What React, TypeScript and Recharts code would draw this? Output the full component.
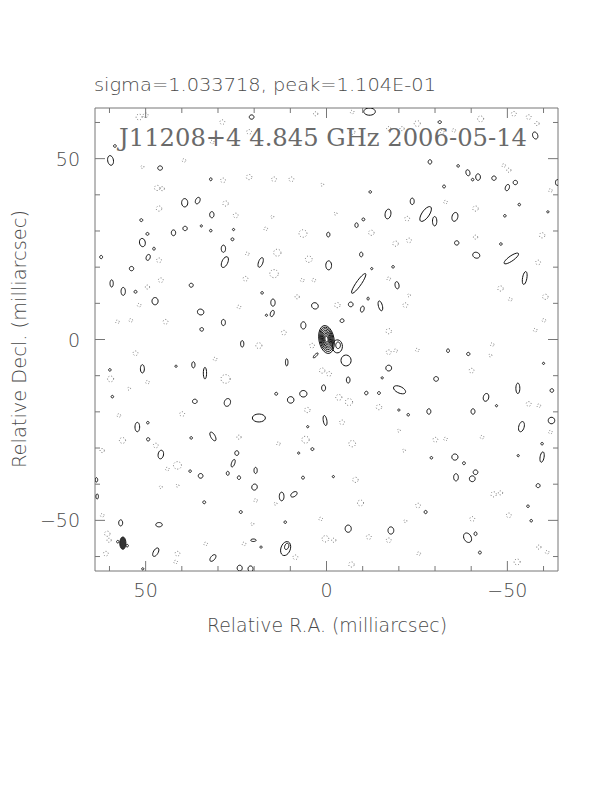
import React from 'react';
import { ScatterChart, Scatter, XAxis, YAxis } from 'recharts';

// [x (mas), y (mas), half-width, half-height, tilt deg]
const SOLID: number[][] = [
  [20.7, 61.5, 0.65, 0.6, 0], [-11.9, 63.0, 1.6, 1.0, 0], [-31.3, 60.1, 0.45, 0.4, 0], [-57.7, 56.4, 0.7, 1.0, 20],
  [59.7, 49.5, 0.8, 1.35, 10], [58.5, 53.5, 0.4, 0.35, 0], [46.0, 47.4, 0.65, 0.6, 0], [32.0, 44.3, 0.35, 0.4, 0],
  [39.2, 37.8, 0.85, 1.15, 0], [35.6, 38.4, 0.6, 0.95, -25], [31.7, 34.5, 0.6, 0.85, 0], [51.2, 33.0, 0.4, 0.4, 0],
  [49.5, 29.2, 0.4, 0.4, 0], [42.3, 29.5, 0.6, 0.8, 0], [39.1, 30.7, 0.6, 0.6, 0], [34.6, 31.4, 0.3, 0.3, 0],
  [32.0, 30.1, 0.35, 0.35, 0], [50.9, 26.8, 0.8, 1.15, 10], [47.7, 25.1, 0.35, 0.4, 0], [26.0, 27.7, 0.4, 0.4, 0],
  [25.7, 30.4, 0.3, 0.3, 0], [28.5, 25.1, 0.6, 1.0, 0], [62.3, 22.8, 0.4, 0.45, 0], [49.3, 22.7, 0.55, 0.85, -20],
  [28.1, 21.4, 0.8, 1.6, -25], [18.2, 21.3, 0.6, 1.4, -20], [53.9, 19.6, 0.6, 0.6, 0], [59.4, 15.5, 0.45, 1.0, 0],
  [56.2, 13.3, 0.6, 1.1, 0], [52.8, 13.2, 0.4, 0.4, 0], [47.4, 10.6, 0.85, 1.0, 0], [37.4, 15.0, 0.55, 0.55, 0],
  [34.8, 7.6, 0.9, 0.8, -20], [34.5, 2.8, 0.5, 0.5, 0], [28.5, 4.7, 0.55, 0.85, 0], [14.8, 10.2, 0.6, 1.0, 0],
  [15.0, 7.2, 0.5, 0.9, -20], [17.8, 12.9, 0.35, 0.35, 0], [16.6, 6.7, 0.3, 0.3, 0], [6.4, 3.9, 0.7, 1.0, 0],
  [3.2, 9.3, 0.95, 0.85, -30], [-0.6, 20.5, 0.8, 1.25, 0], [-0.5, 29.0, 0.45, 0.65, 0], [-4.3, 5.2, 0.55, 0.5, 20],
  [-6.7, 9.7, 0.65, 0.65, 0], [-9.9, 8.4, 0.5, 0.85, -15], [-11.5, 11.3, 0.3, 0.4, 0], [-14.9, 9.3, 0.55, 1.4, 15],
  [-8.9, 15.5, 3.3, 0.7, 55], [-9.6, 23.5, 0.45, 0.65, 0], [-8.3, 31.6, 0.45, 0.65, 0], [-10.2, 33.2, 0.4, 0.4, 0],
  [-12.1, 40.8, 0.35, 0.35, 0], [-12.5, 19.6, 0.3, 0.3, 0], [-17.0, 34.7, 0.8, 1.35, -10], [-18.4, 20.1, 0.35, 0.35, 0],
  [-19.5, 15.0, 0.55, 1.0, 10], [-23.7, 38.2, 0.55, 0.9, 0], [-27.4, 34.7, 2.4, 1.0, 55], [-29.9, 32.7, 0.6, 1.3, 0],
  [-28.6, 49.1, 0.5, 0.6, 0], [-32.5, 42.3, 0.4, 0.4, 0], [-35.5, 33.9, 0.8, 1.25, -15], [-36.0, 26.7, 0.6, 0.6, 0],
  [-36.4, 48.0, 0.35, 0.35, 0], [-39.1, 46.1, 0.55, 0.85, 15], [-41.9, 44.9, 0.65, 0.9, 0], [-40.4, 44.2, 0.35, 0.35, 0],
  [-46.3, 44.6, 0.6, 0.6, 0], [-50.0, 42.0, 0.55, 0.9, -20], [-52.2, 43.4, 0.6, 0.6, 0], [-41.4, 23.3, 1.0, 0.8, -20],
  [-51.1, 22.4, 2.4, 0.7, 35], [-54.8, 17.0, 0.6, 1.8, -10], [-53.3, 37.3, 0.35, 0.35, 0], [-48.2, 26.4, 0.35, 0.35, 0],
  [-49.3, 34.2, 0.35, 0.35, 0], [-63.8, 43.4, 0.5, 0.8, 0], [-61.2, 35.3, 0.3, 0.3, 0],
  [23.3, -1.2, 0.45, 0.9, 0], [3.0, -4.4, 0.9, 0.3, 45], [-5.4, -5.8, 1.4, 1.5, 0], [11.0, -6.3, 0.35, 1.0, 0],
  [50.9, -8.1, 0.55, 1.15, 0], [36.8, -7.0, 0.45, 0.85, 0], [33.6, -9.3, 0.45, 1.6, 0], [59.9, -8.4, 0.35, 0.35, 0],
  [41.6, -7.4, 0.3, 0.3, 0], [-33.6, -3.1, 0.4, 0.5, 0], [-39.2, -4.0, 0.45, 0.45, 0], [-17.2, -7.9, 0.8, 0.8, 0],
  [-30.3, -10.9, 0.65, 0.65, 0], [-6.0, -11.2, 0.5, 0.85, 0], [0.8, -13.4, 0.55, 0.85, 0], [-11.0, -14.8, 0.45, 0.5, -20],
  [-14.5, -14.8, 0.4, 0.4, 0], [-20.2, -13.9, 1.8, 0.9, -25], [6.4, -15.0, 1.0, 0.9, 0], [9.9, -16.7, 0.9, 0.9, 0],
  [13.9, -15.0, 0.4, 0.4, 0], [-15.4, -10.6, 0.3, 0.3, 0], [59.2, -15.8, 0.35, 0.35, 0], [36.4, -17.1, 0.65, 0.6, 0],
  [27.4, -17.4, 0.85, 1.1, -20], [-52.9, -13.5, 0.55, 1.45, 0], [-44.1, -16.0, 0.75, 1.1, -15], [-62.3, -14.1, 0.5, 0.5, 0],
  [-28.3, -19.9, 0.55, 0.75, 0], [-40.5, -19.9, 0.55, 0.75, 0], [-22.6, -20.8, 0.35, 0.35, 0], [-20.0, -19.5, 0.3, 0.3, 0],
  [-47.0, -18.3, 0.3, 0.3, 0], [18.7, -21.7, 1.8, 1.1, 0], [0.4, -22.4, 0.5, 1.4, 10], [52.3, -24.2, 0.65, 1.3, 0],
  [49.4, -23.0, 0.35, 0.35, 0], [-53.9, -24.1, 0.75, 1.45, -15], [-62.2, -22.4, 0.9, 0.9, 0], [31.4, -26.8, 0.6, 1.35, 30],
  [49.3, -27.6, 0.45, 0.45, 0], [37.4, -27.2, 0.35, 0.35, 0], [45.8, -31.8, 0.75, 1.2, -10], [24.8, -31.4, 0.55, 0.65, 0],
  [25.8, -34.2, 0.45, 1.1, -20], [27.3, -37.0, 0.4, 0.55, 0], [24.2, -38.2, 0.45, 0.5, 0], [19.6, -36.2, 0.45, 0.85, 0],
  [34.8, -37.7, 0.65, 0.65, 0], [37.7, -36.4, 0.35, 0.35, 0], [63.6, -38.8, 0.35, 0.6, 0], [63.4, -43.4, 0.35, 0.7, 0],
  [19.9, -40.8, 0.75, 0.85, -20], [12.4, -43.4, 0.65, 1.2, 0], [9.0, -42.8, 1.0, 0.6, 35], [6.5, -38.2, 0.4, 0.4, 0],
  [3.9, -30.3, 0.4, 0.4, 0], [7.7, -31.4, 0.3, 0.3, 0], [-1.9, -37.9, 0.3, 0.3, 0], [-35.5, -32.5, 0.85, 0.85, 0],
  [-38.0, -34.2, 0.4, 0.4, 0], [-35.8, -38.1, 0.65, 1.0, 0], [-40.3, -38.5, 0.8, 0.8, 0], [-41.2, -36.7, 0.65, 0.65, 0],
  [-59.6, -32.5, 0.55, 1.45, -10], [-59.6, -28.8, 0.35, 0.35, 0], [-53.0, -32.1, 0.3, 0.3, 0], [-58.5, -40.4, 0.55, 0.55, 0],
  [-55.7, -46.1, 0.35, 0.35, 0], [-56.6, -50.1, 0.35, 0.35, 0], [-29.0, -32.7, 0.35, 0.35, 35], [-27.4, -47.7, 0.4, 0.45, 0],
  [33.8, -45.0, 0.4, 0.4, 0], [23.7, -47.7, 0.4, 0.4, 0], [11.4, -50.5, 0.35, 0.35, 0], [56.9, -50.7, 0.55, 0.85, 0],
  [46.3, -51.2, 0.9, 0.6, 0], [-6.0, -52.3, 0.85, 1.0, 0], [-17.8, -52.8, 0.8, 1.0, 0], [-39.0, -54.8, 1.0, 1.4, 30],
  [-41.2, -53.7, 0.4, 0.5, 0], [-42.4, -58.9, 0.4, 0.4, 0], [47.2, -58.8, 0.65, 1.3, -30], [31.4, -60.4, 0.6, 1.1, -40],
  [20.2, -55.5, 0.75, 0.35, 0], [18.1, -57.4, 0.3, 0.3, 0], [11.3, -57.8, 1.3, 2.0, -20], [11.0, -57.2, 0.55, 0.9, -20],
  [24.0, -63.2, 0.7, 0.8, 0], [21.0, -63.4, 0.7, 0.8, 0], [55.1, -57.0, 0.35, 0.35, 0], [57.7, -55.9, 0.35, 0.35, 0],
  [50.8, -63.4, 0.3, 0.3, 0], [-60.0, -6.6, 0.3, 0.3, 0], [5.2, -24.1, 0.3, 0.3, 0],
];

// negative (dashed) contours: [x, y, radius]
const DOTTED: number[][] = [
  [51.8, 61.5, 1.0], [50.0, 62.0, 0.8], [28.8, 60.1, 0.8], [21.4, 57.4, 0.8], [3.0, 62.4, 0.7], [-7.1, 57.4, 0.9],
  [-7.1, 62.9, 0.6], [-17.2, 58.3, 0.7], [-20.9, 58.3, 0.7], [-25.1, 59.7, 1.0], [-32.0, 57.4, 0.6], [-42.6, 61.0, 1.0],
  [-51.8, 62.4, 0.8], [-55.9, 61.5, 0.8], [-58.2, 59.7, 0.7], [-50.4, 46.8, 0.7], [-49.0, 48.1, 0.6], [39.4, 49.5, 0.6],
  [31.6, 54.6, 0.6], [50.9, 47.7, 0.5], [46.8, 41.9, 0.9], [45.4, 41.7, 0.7], [28.6, 44.0, 0.8], [21.4, 44.9, 0.9],
  [14.5, 44.3, 0.8], [9.7, 44.3, 0.8], [1.2, 42.8, 0.5], [27.9, 37.6, 0.9], [46.3, 36.2, 0.9], [25.1, 34.3, 0.8],
  [16.8, 30.6, 0.6], [6.5, 29.3, 1.3], [15.0, 33.9, 0.5], [-2.5, 34.8, 0.5], [-12.4, 29.5, 0.9], [-19.1, 26.5, 0.9],
  [-22.8, 27.4, 0.8], [-22.3, 33.4, 0.8], [-32.9, 38.0, 0.6], [-41.2, 36.2, 0.9], [-59.6, 28.8, 0.9], [-58.5, 21.3, 0.8],
  [-61.9, 41.2, 0.6], [13.6, 24.0, 1.2], [4.9, 22.2, 1.1], [21.9, 23.7, 0.6], [46.3, 21.9, 0.8], [14.5, 18.2, 1.4],
  [22.4, 16.8, 0.8], [45.8, 16.4, 0.8], [49.5, 14.5, 0.7], [6.7, 16.4, 0.6], [3.5, 16.4, 0.6], [8.1, 11.8, 0.7],
  [-3.0, 9.5, 0.9], [-17.2, 16.8, 0.6], [-22.8, 12.2, 0.5], [-21.8, 9.5, 0.8], [-48.1, 14.1, 0.9], [-50.8, 11.1, 0.6],
  [-60.5, 11.8, 0.9], [-60.1, 5.3, 0.6], [-57.7, 2.6, 0.6], [-17.2, 2.3, 0.9], [11.8, 1.9, 0.8], [44.5, 4.9, 0.8],
  [54.1, 5.3, 0.6], [57.8, 4.9, 0.6], [51.8, 9.5, 0.6], [24.2, 9.0, 0.6], [-41.2, 28.3, 0.7], [-35.2, 57.8, 0.6],
  [52.8, -3.8, 0.8], [59.7, -10.9, 1.0], [49.5, -11.8, 0.6], [54.6, -13.6, 0.5], [27.9, -10.9, 1.5], [30.8, -5.4, 0.6],
  [18.7, -1.7, 1.0], [4.0, -1.7, 0.8], [1.2, -8.6, 0.9], [-0.7, -9.5, 0.8], [-3.4, -16.0, 1.0], [-6.2, -17.3, 1.2],
  [5.3, -19.5, 0.9], [-4.3, -22.9, 0.8], [-14.5, -18.7, 0.9], [-17.2, -3.5, 0.8], [-19.1, -3.1, 0.6], [-25.1, -2.9, 0.6],
  [-45.8, -1.4, 0.6], [-40.1, -8.6, 0.8], [-45.3, -4.4, 0.5], [-55.9, -17.8, 0.8], [-58.7, -18.3, 0.6], [-61.9, -25.6, 0.6],
  [-30.1, -27.7, 0.8], [-32.9, -27.5, 0.6], [-43.0, -27.0, 0.6], [-20.0, -25.2, 0.5], [-21.4, -30.7, 0.5], [-7.1, -28.8, 1.1],
  [5.8, -27.7, 1.2], [13.3, -28.8, 0.6], [24.2, -27.0, 0.7], [39.9, -20.6, 0.8], [57.4, -21.0, 0.6], [56.4, -27.9, 1.0],
  [47.2, -29.3, 0.8], [62.0, -30.7, 0.7], [41.2, -34.8, 1.3], [44.0, -35.8, 0.6], [45.8, -40.8, 0.5], [41.2, -40.4, 0.5],
  [19.6, -44.5, 0.6], [14.1, -45.4, 0.5], [1.6, -49.6, 0.6], [-8.0, -38.8, 0.9], [-9.4, -45.2, 1.0], [-25.3, -45.9, 0.8],
  [-21.8, -50.2, 0.5], [-40.3, -49.6, 0.8], [-46.2, -42.8, 0.9], [-48.1, -42.4, 0.7], [-50.4, -48.6, 0.8], [-58.7, -57.4, 0.7],
  [-61.0, -58.8, 0.6], [-52.7, -61.5, 1.0], [-17.2, -55.5, 0.8], [-11.7, -54.6, 0.8], [-6.9, -62.2, 0.9], [0.3, -55.1, 1.1],
  [-2.0, -55.5, 0.7], [8.6, -60.2, 0.8], [20.5, -51.0, 0.5], [22.8, -56.5, 0.6], [33.4, -56.5, 0.6], [41.2, -59.2, 0.8],
  [41.7, -61.5, 0.6], [60.6, -53.7, 0.9], [60.1, -55.5, 0.7], [61.0, -59.2, 0.8], [62.0, -48.6, 0.6], [-25.5, -59.2, 0.6],
];

// nested contours of the core and its neighbouring component
const CORE: number[][] = [
  [0.0, 0.0, 2.1, 3.9, 10], [0.0, 0.05, 1.83, 3.4, 10], [0.0, 0.1, 1.58, 2.93, 10], [0.0, 0.1, 1.33, 2.46, 10],
  [0.0, 0.1, 1.1, 2.03, 10], [0.0, 0.1, 0.86, 1.6, 10], [0.0, 0.1, 0.64, 1.17, 10], [0.0, 0.1, 0.42, 0.78, 10],
  [-3.0, -1.9, 1.4, 1.8, 0], [-3.2, -1.6, 0.65, 0.9, 0],
];

const BEAM: number[][] = [[56.3, -56.3, 0.85, 1.7, 0]];

const AXIS_TICKS = [-60, -50, -40, -30, -20, -10, 0, 10, 20, 30, 40, 50, 60];
const MAJOR_TICKS = [-50, 0, 50];
const DOMAIN: [number, number] = [-64, 64];

const TITLE = 'sigma=1.033718, peak=1.104E-01';
const INNER_TITLE = 'J11208+4 4.845 GHz 2006-05-14';
const X_LABEL = 'Relative R.A. (milliarcsec)';
const Y_LABEL = 'Relative Decl. (milliarcsec)';

type Pt = { x: number | null; y: number | null };

function ring(b: number[]): Pt[] {
  const [x, y, w, h, a = 0] = b;
  const n = 22;
  const ar = (a * Math.PI) / 180;
  const pts: Pt[] = [];
  for (let i = 0; i <= n; i++) {
    const t = (2 * Math.PI * i) / n;
    const u = w * Math.cos(t);
    const v = h * Math.sin(t);
    const sx = u * Math.cos(ar) - v * Math.sin(ar);
    const sy = u * Math.sin(ar) + v * Math.cos(ar);
    pts.push({ x: x - sx, y: y + sy });
  }
  return pts;
}

function paths(list: number[][]): Pt[] {
  const out: Pt[] = [];
  list.forEach((b) => {
    out.push(...ring(b));
    out.push({ x: null, y: null });
  });
  return out;
}

const solidData = paths(SOLID);
const dottedData = paths(DOTTED.map(([x, y, r]) => [x, y, r * 0.85, r * 0.8, 0]));
const coreData = paths(CORE);
const beamData = paths(BEAM);

const FRAME = '#777';
const TEXT = '#4a4a4a';
const SANS = '"DejaVu Sans", "Liberation Sans", sans-serif';
const fmt = (v: number) => (v < 0 ? '\u2212' + Math.abs(v) : String(v));

const noShape = () => <g />;

const BottomTick = (p: any) => {
  const { x, y, payload } = p;
  const major = MAJOR_TICKS.includes(payload.value);
  return (
    <g>
      <line x1={x} y1={y} x2={x} y2={y - (major ? 10 : 5)} stroke={FRAME} strokeWidth={1} />
      {major && (
        <text x={x} y={y + 26} textAnchor="middle" fontSize={19} fontFamily={SANS} fontWeight={200} fill={TEXT}>
          {fmt(payload.value)}
        </text>
      )}
    </g>
  );
};
const TopTick = (p: any) => {
  const { x, y, payload } = p;
  const major = MAJOR_TICKS.includes(payload.value);
  return <line x1={x} y1={y} x2={x} y2={y + (major ? 10 : 5)} stroke={FRAME} strokeWidth={1} />;
};
const LeftTick = (p: any) => {
  const { x, y, payload } = p;
  const major = MAJOR_TICKS.includes(payload.value);
  return (
    <g>
      <line x1={x} y1={y} x2={x + (major ? 10 : 5)} y2={y} stroke={FRAME} strokeWidth={1} />
      {major && (
        <text x={x - 15} y={y + 7} textAnchor="end" fontSize={19} fontFamily={SANS} fontWeight={200} fill={TEXT}>
          {fmt(payload.value)}
        </text>
      )}
    </g>
  );
};
const RightTick = (p: any) => {
  const { x, y, payload } = p;
  const major = MAJOR_TICKS.includes(payload.value);
  return <line x1={x} y1={y} x2={x - (major ? 10 : 5)} y2={y} stroke={FRAME} strokeWidth={1} />;
};

export default function App() {
  return (
    <div style={{ position: 'absolute', left: 0, top: 0, width: 612, height: 792, background: '#fff' }}>
      <ScatterChart width={612} height={792} margin={{ top: 88, right: 34, bottom: 201, left: 75 }}>
        <XAxis
          xAxisId="b" type="number" dataKey="x" domain={DOMAIN} reversed allowDataOverflow
          ticks={AXIS_TICKS} interval={0} tick={BottomTick} tickLine={false} tickSize={0} tickMargin={0}
          height={20} axisLine={{ stroke: FRAME }} orientation="bottom"
        />
        <XAxis
          xAxisId="t" type="number" dataKey="x" domain={DOMAIN} reversed allowDataOverflow
          ticks={AXIS_TICKS} interval={0} tick={TopTick} tickLine={false} tickSize={0} tickMargin={0}
          height={20} axisLine={{ stroke: FRAME }} orientation="top"
        />
        <YAxis
          yAxisId="l" type="number" dataKey="y" domain={DOMAIN} allowDataOverflow
          ticks={AXIS_TICKS} interval={0} tick={LeftTick} tickLine={false} tickSize={0} tickMargin={0}
          width={20} axisLine={{ stroke: FRAME }} orientation="left"
        />
        <YAxis
          yAxisId="r" type="number" dataKey="y" domain={DOMAIN} allowDataOverflow
          ticks={AXIS_TICKS} interval={0} tick={RightTick} tickLine={false} tickSize={0} tickMargin={0}
          width={20} axisLine={{ stroke: FRAME }} orientation="right"
        />
        <Scatter
          xAxisId="b" yAxisId="l" data={dottedData} shape={noShape} isAnimationActive={false} legendType="none"
          line={{ stroke: '#777', strokeWidth: 1, strokeDasharray: '1 2', fill: 'none' }}
        />
        <Scatter
          xAxisId="b" yAxisId="l" data={solidData} shape={noShape} isAnimationActive={false} legendType="none"
          line={{ stroke: '#111', strokeWidth: 1, fill: 'none' }}
        />
        <Scatter
          xAxisId="b" yAxisId="l" data={coreData} shape={noShape} isAnimationActive={false} legendType="none"
          line={{ stroke: '#111', strokeWidth: 1, fill: 'none' }}
        />
        <Scatter
          xAxisId="b" yAxisId="l" data={beamData} shape={noShape} isAnimationActive={false} legendType="none"
          line={{ stroke: '#222', strokeWidth: 1, fill: '#333' }}
        />
      </ScatterChart>
      <svg width={612} height={792} style={{ position: 'absolute', left: 0, top: 0, pointerEvents: 'none' }}>
        <text x={94} y={91} fontSize={17} fontFamily={SANS} fontWeight={200} fill={TEXT} textLength={342} lengthAdjust="spacingAndGlyphs">
          {TITLE}
        </text>
        <text x={119} y={146} fontSize={24} fontFamily='"DejaVu Serif", "Liberation Serif", serif' fontWeight={200} fill="#6a6a6a" textLength={408} lengthAdjust="spacingAndGlyphs">
          {INNER_TITLE}
        </text>
        <text x={207} y={632} fontSize={19} fontFamily={SANS} fontWeight={200} fill={TEXT} textLength={240} lengthAdjust="spacingAndGlyphs">
          {X_LABEL}
        </text>
        <text
          x={0} y={0} transform="translate(26,339) rotate(-90)" textAnchor="middle" fontSize={19} fontFamily={SANS}
          fontWeight={200} fill={TEXT} textLength={258} lengthAdjust="spacingAndGlyphs"
        >
          {Y_LABEL}
        </text>
      </svg>
    </div>
  );
}
